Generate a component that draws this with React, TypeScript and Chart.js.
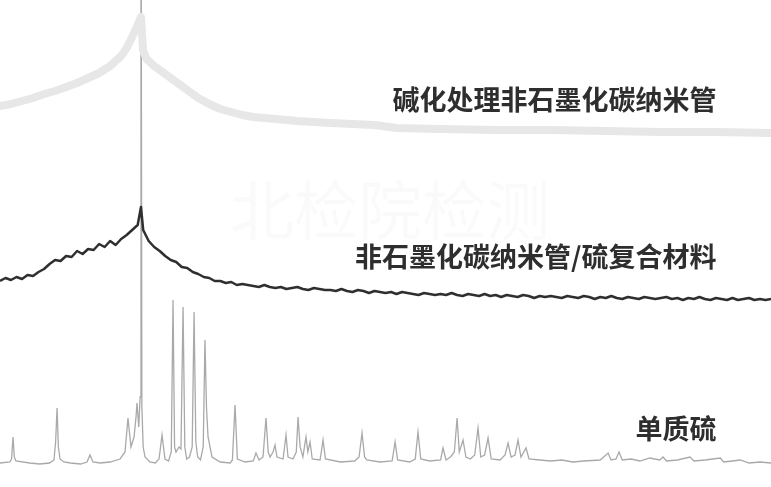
import { useEffect, useRef } from "react";
import { Chart, registerables } from "chart.js";

Chart.register(...registerables);

// 2θ (degrees) and relative intensity (a.u., offset-stacked traces)
const alkaliX = [10, 11, 12, 13, 14, 15, 16, 17, 18, 19, 20, 21, 21.5, 22, 22.5, 22.8, 23.0, 23.3, 24, 25, 26, 27, 28, 29, 30, 31, 32, 33, 35, 37, 40, 44, 46, 50, 55, 60, 65, 70, 75, 80];
const alkaliY = [381, 383, 386, 389, 393, 396, 400, 404, 409, 414, 421, 431, 439, 450, 462, 470, 436, 428, 421, 413, 405, 397, 389, 383, 378, 375, 372, 370, 368, 366, 364, 362, 359, 358, 357, 357, 356, 355, 355, 354];

const compositeX = [
  10, 10.5, 11, 11.5, 12, 12.5, 13, 13.5, 14, 14.5, 15, 15.5, 16, 16.5, 17, 17.5, 18, 18.5, 19, 19.5,
  20, 20.5, 21, 21.5, 22, 22.5, 22.8, 23, 23.5, 24, 24.5, 25, 25.5, 26, 26.5, 27, 27.5, 28, 28.5, 29, 29.5,
  30, 30.5, 31, 31.5, 32, 32.5, 33, 33.5, 34, 34.5, 35, 35.5, 36, 36.5, 37, 37.5, 38, 38.5, 39, 39.5,
  40, 40.5, 41, 41.5, 42, 42.5, 43, 43.5, 44, 44.5, 45, 45.5, 46, 46.5, 47, 47.5, 48, 48.5, 49, 49.5,
  50, 50.5, 51, 51.5, 52, 52.5, 53, 53.5, 54, 54.5, 55, 55.5, 56, 56.5, 57, 57.5, 58, 58.5, 59, 59.5,
  60, 60.5, 61, 61.5, 62, 62.5, 63, 63.5, 64, 64.5, 65, 65.5, 66, 66.5, 67, 67.5, 68, 68.5, 69, 69.5,
  70, 70.5, 71, 71.5, 72, 72.5, 73, 73.5, 74, 74.5, 75, 75.5, 76, 76.5, 77, 77.5, 78, 78.5, 79, 79.5, 80,
];
const compositeY = [
  206, 209, 207, 210, 208, 212, 211, 215, 218, 223, 227, 226, 231, 230, 236, 233, 238, 237, 243, 240,
  246, 242, 248, 252, 257, 262, 280, 257, 246, 240, 236, 231, 227, 225, 220, 219, 215, 213, 210, 209, 206,
  206, 204, 205, 202, 203, 202, 201, 200, 202, 200, 199, 200, 198, 199, 200, 198, 197, 199, 198, 197,
  197, 196, 198, 196, 195, 197, 196, 194, 196, 195, 194, 195, 193, 195, 194, 193, 192, 194, 193, 192,
  193, 192, 194, 192, 191, 193, 192, 191, 193, 191, 192, 190, 192, 191, 190, 192, 191, 189, 191, 190,
  191, 190, 189, 191, 190, 189, 191, 190, 188, 190, 189, 191, 189, 188, 190, 189, 188, 190, 189, 188,
  189, 190, 188, 189, 187, 189, 188, 190, 188, 187, 189, 188, 187, 189, 187, 188, 189, 187, 188, 187, 188,
];

const sulfurX = [
  10.0, 10.9, 11.05, 11.18, 11.3, 11.45, 12.7, 13.6, 14.5, 14.9, 15.05, 15.18, 15.3, 15.45, 15.8, 16.4, 17.3, 17.9, 18.17, 18.44,
  19.1, 20.0, 20.9, 21.35, 21.62, 21.89, 22.17, 22.35, 22.44, 22.6, 22.72, 22.8, 22.88, 23.0, 23.17, 23.6, 24.1, 24.44, 24.71, 24.98,
  25.3, 25.55, 25.71, 25.85, 25.98, 26.25, 26.43, 26.62, 26.78, 26.95, 27.2, 27.45, 27.62, 27.78, 27.95, 28.2, 28.45, 28.61, 28.75, 28.89,
  29.25, 30.0, 30.9, 31.1, 31.34, 31.55, 32.25, 33.0, 33.24, 33.52, 33.88, 34.15, 34.35, 34.52, 34.79, 34.97, 35.15, 35.7, 35.97, 36.15,
  36.6, 36.9, 37.06, 37.25, 37.5, 37.78, 37.95, 38.15, 38.35, 39.06, 39.33, 39.55, 40.9, 42.2, 42.6, 42.87, 43.1, 43.3, 44.5, 45.6,
  45.87, 46.1, 47.2, 47.7, 47.95, 48.2, 49.0, 50.0, 50.22, 50.5, 50.9, 51.25, 51.5, 51.7, 52.04, 52.3, 52.7, 53.1, 53.4, 53.65,
  54.0, 54.31, 54.6, 55.4, 55.85, 56.13, 56.4, 56.76, 57.03, 57.3, 57.76, 58.03, 59.0, 60.0, 61.0, 62.0, 63.0, 64.5, 65.21, 65.48,
  65.93, 66.2, 66.5, 67.3, 68.1, 69.0, 69.9, 70.2, 70.5, 71.5, 72.65, 73.0, 74.0, 75.4, 75.7, 76.5, 77.2, 78.0, 79.0, 80.0,
];
const sulfurY = [
  24, 25, 28, 50, 30, 26, 24, 23, 24, 27, 45, 79, 40, 28, 25, 24, 23, 25, 32, 25,
  24, 25, 28, 35, 69, 40, 50, 70, 84, 60, 90, 700, 80, 40, 30, 25, 24, 28, 52, 28,
  26, 35, 187, 40, 35, 40, 38, 180, 40, 28, 30, 40, 175, 45, 30, 27, 40, 147, 79, 50,
  30, 25, 24, 27, 82, 28, 25, 26, 34, 27, 30, 69, 35, 30, 35, 42, 30, 28, 52, 30,
  28, 35, 70, 40, 30, 50, 35, 45, 28, 27, 47, 28, 25, 26, 30, 54, 30, 27, 25, 26,
  45, 27, 25, 28, 55, 28, 26, 27, 39, 27, 30, 35, 69, 35, 47, 30, 28, 32, 59, 30,
  32, 49, 28, 27, 32, 44, 30, 32, 47, 30, 39, 28, 27, 26, 27, 25, 26, 27, 34, 27,
  28, 35, 27, 28, 26, 29, 27, 30, 26, 27, 30, 26, 27, 29, 25, 26, 27, 24, 25, 24,
];

const labelTexts = ["碱化处理非石墨化碳纳米管", "非石墨化碳纳米管/硫复合材料", "单质硫"];
const labelX = [75.05, 75.05, 75.05];
const labelY = [387, 230, 58];
const watermark = "北检院检测";

const pts = (xs: number[], ys: number[]) => xs.map((x, i) => ({ x, y: ys[i] }));

const labelPlugin = {
  id: "traceLabels",
  beforeDatasetsDraw(chart: any) {
    const { ctx, scales } = chart;
    ctx.save();
    ctx.font = '64px "Noto Sans CJK SC"';
    ctx.fillStyle = "rgba(0,0,0,0.018)";
    ctx.textAlign = "center";
    ctx.textBaseline = "middle";
    ctx.fillText(watermark, scales.x.getPixelForValue(45.4), scales.y.getPixelForValue(277));
    ctx.restore();
  },
  afterDraw(chart: any) {
    const { ctx, scales } = chart;
    ctx.save();
    ctx.font = 'bold 27px "Noto Sans CJK SC"';
    ctx.fillStyle = "#2e2e2e";
    ctx.textAlign = "right";
    ctx.textBaseline = "middle";
    labelTexts.forEach((t, i) => {
      ctx.fillText(t, scales.x.getPixelForValue(labelX[i]), scales.y.getPixelForValue(labelY[i]));
    });
    ctx.restore();
  },
};

export default function App() {
  const ref = useRef<HTMLCanvasElement>(null);
  useEffect(() => {
    document.body.style.margin = "0";
    const chart = new Chart(ref.current!, {
      type: "line",
      data: {
        datasets: [
          {
            label: "碱化处理非石墨化碳纳米管",
            data: pts(alkaliX, alkaliY),
            borderColor: "#e7e7e7",
            borderWidth: 8,
            borderJoinStyle: "round",
            borderCapStyle: "round",
            pointRadius: 0,
            tension: 0,
          },
          {
            label: "非石墨化碳纳米管/硫复合材料",
            data: pts(compositeX, compositeY),
            borderColor: "#2f2f2f",
            borderWidth: 2.5,
            borderJoinStyle: "round",
            pointRadius: 0,
            tension: 0,
          },
          {
            label: "单质硫",
            data: pts(sulfurX, sulfurY),
            borderColor: "#a9a9a9",
            borderWidth: 1.3,
            pointRadius: 0,
            tension: 0,
          },
        ],
      },
      options: {
        animation: false,
        responsive: true,
        maintainAspectRatio: false,
        layout: { padding: 0 },
        plugins: { legend: { display: false }, tooltip: { enabled: false } },
        scales: {
          x: { type: "linear", min: 10, max: 80, display: false },
          y: { type: "linear", min: 0, max: 487, display: false },
        },
      },
      plugins: [labelPlugin],
    });
    return () => chart.destroy();
  }, []);
  return (
    <div style={{ width: 771, height: 487, position: "relative", background: "#fff" }}>
      <canvas ref={ref} />
    </div>
  );
}
